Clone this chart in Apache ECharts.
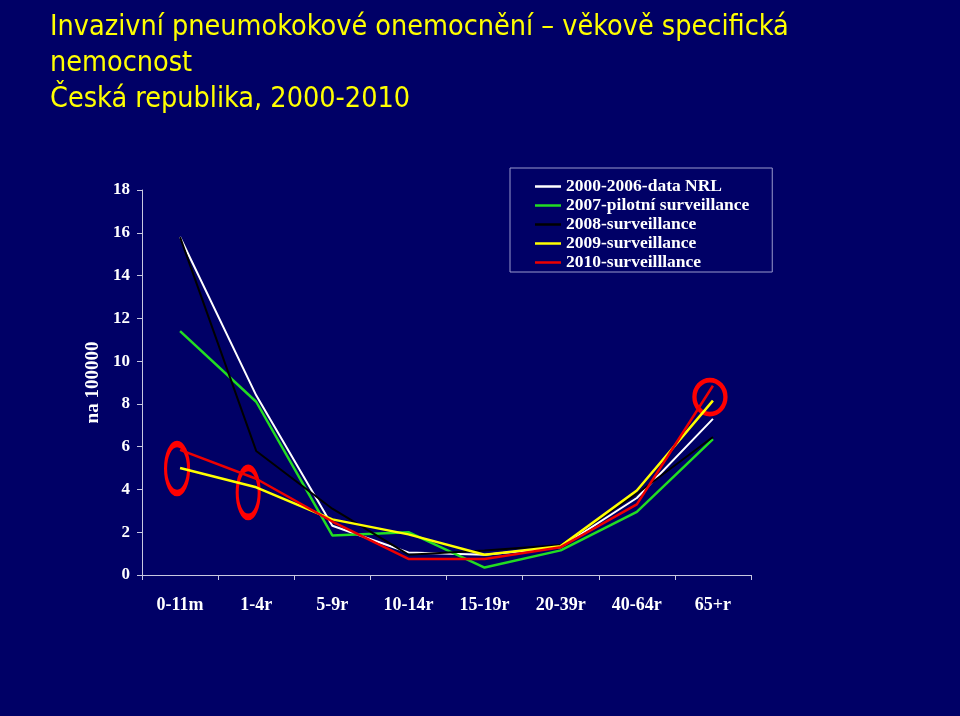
<!DOCTYPE html>
<html>
<head>
<meta charset="utf-8">
<script src="https://cdn.jsdelivr.net/npm/echarts@6/dist/echarts.min.js"></script>
<style>
html,body{margin:0;padding:0;background:#000066;}
#chart{width:960px;height:716px;}
</style>
</head>
<body>
<div id="chart"></div>
<script>
const categories = ['0-11m', '1-4r', '5-9r', '10-14r', '15-19r', '20-39r', '40-64r', '65+r'];
const yTicks = [0, 2, 4, 6, 8, 10, 12, 14, 16, 18];
const seriesNames = ['2000-2006-data NRL', '2007-pilotní surveillance', '2008-surveillance', '2009-surveillance', '2010-surveilllance'];
const data2000_2006 = [15.8, 8.4, 2.3, 1.05, 0.95, 1.3, 3.6, 7.3];
const data2007 = [11.4, 8.1, 1.85, 2.0, 0.35, 1.15, 2.95, 6.35];
const data2008 = [15.8, 5.8, 3.1, 0.95, 1.15, 1.4, 3.8, 6.45];
const data2009 = [5.0, 4.1, 2.6, 1.9, 0.95, 1.35, 3.95, 8.15];
const data2010 = [5.85, 4.5, 2.5, 0.75, 0.75, 1.3, 3.3, 8.85];
const seriesColors = ['#ffffff', '#22dd22', '#000000', '#ffff00', '#ee0000'];
const seriesWidths = [2, 2.5, 2, 2.5, 2.5];
// highlighted points (annotation ellipses): [category, value]
const highlights = [['0-11m', 4.98], ['1-4r', 3.86], ['65+r', 8.32]];
const highlightSizes = [[23, 49], [22, 49], [31, 34]];
const highlightOffsets = [[-3, 0], [-8, 0], [-3, 0]];

const allData = [data2000_2006, data2007, data2008, data2009, data2010];
const serif = 'Liberation Serif';

const series = allData.map((d, i) => ({
  name: seriesNames[i],
  type: 'line',
  data: d,
  symbol: 'none',
  lineStyle: { color: seriesColors[i], width: seriesWidths[i] },
  itemStyle: { color: seriesColors[i] },
  z: 2 + i
}));
series[4].markPoint = {
  silent: true,
  label: { show: false },
  data: highlights.map((h, i) => ({
    coord: h,
    symbol: 'circle',
    symbolSize: highlightSizes[i],
    symbolOffset: highlightOffsets[i],
    itemStyle: { color: 'rgba(0,0,0,0)', borderColor: '#ff0000', borderWidth: 4.5 }
  }))
};

const chart = echarts.init(document.getElementById('chart'));
chart.setOption({
  animation: false,
  backgroundColor: '#000066',
  title: {
    text: 'Invazivní pneumokokové onemocnění – věkově specifická\nnemocnost\nČeská republika, 2000-2010',
    left: 50,
    top: 10,
    padding: 0,
    textStyle: {
      color: '#ffff00',
      fontFamily: 'DejaVu Sans Condensed, DejaVu Sans',
      fontWeight: 'normal',
      fontSize: 28.5,
      lineHeight: 36
    }
  },
  legend: {
    orient: 'vertical',
    left: 510,
    top: 168,
    data: seriesNames.map(n => ({ name: n, icon: 'rect' })),
    itemWidth: 26,
    itemHeight: 2.5,
    itemGap: 0,
    padding: [9, 23, 0, 25],
    borderColor: '#9999cc',
    borderWidth: 1,
    textStyle: { color: '#ffffff', fontFamily: serif, fontWeight: 'bold', fontSize: 17.5, lineHeight: 19 }
  },
  grid: { left: 142, right: 209, top: 190, bottom: 141, containLabel: false },
  xAxis: {
    type: 'category',
    data: categories,
    boundaryGap: true,
    axisLine: { lineStyle: { color: '#c8c8e0', width: 1 } },
    axisTick: { show: true, length: 5, lineStyle: { color: '#c8c8e0' } },
    axisLabel: { color: '#ffffff', fontFamily: serif, fontWeight: 'bold', fontSize: 18, margin: 21 },
    splitLine: { show: false }
  },
  yAxis: {
    type: 'value',
    min: yTicks[0],
    max: yTicks[yTicks.length - 1],
    interval: 2,
    name: 'na 100000',
    nameLocation: 'middle',
    nameRotate: 90,
    nameGap: 37,
    nameTextStyle: { color: '#ffffff', fontFamily: serif, fontWeight: 'bold', fontSize: 19 },
    axisLine: { show: true, lineStyle: { color: '#c8c8e0', width: 1 } },
    axisTick: { show: true, length: 5, lineStyle: { color: '#c8c8e0' } },
    axisLabel: { color: '#ffffff', fontFamily: serif, fontWeight: 'bold', fontSize: 17, margin: 12 },
    splitLine: { show: false }
  },
  series: series
});
</script>
</body>
</html>
